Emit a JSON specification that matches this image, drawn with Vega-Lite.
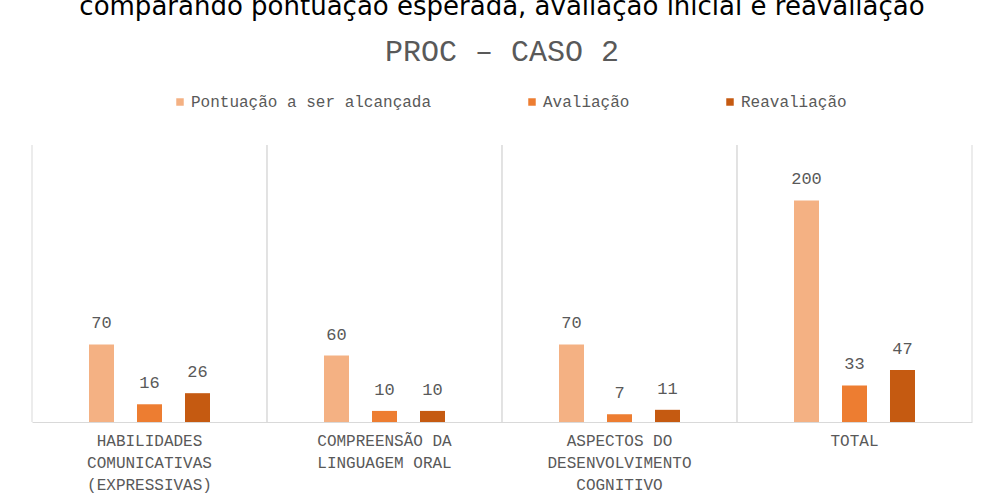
{
  "$schema": "https://vega.github.io/schema/vega-lite/v6.json",
  "autosize": {"type": "none"},
  "width": 940,
  "height": 277,
  "padding": {"left": 32, "top": 145, "right": 15, "bottom": 76},
  "background": "white",
  "title": {
    "text": "comparando pontuação esperada, avaliação inicial e reavaliação",
    "subtitle": "PROC – CASO 2",
    "anchor": "middle",
    "font": "DejaVu Sans",
    "fontSize": 26,
    "fontWeight": "normal",
    "color": "#000000",
    "subtitleFont": "Liberation Mono",
    "subtitleFontSize": 30,
    "subtitleColor": "#595959",
    "subtitlePadding": 17,
    "offset": 27
  },
  "data": {
    "values": [
      {"categoria": "HABILIDADES COMUNICATIVAS (EXPRESSIVAS)", "serie": "Pontuação a ser alcançada", "valor": 70},
      {"categoria": "HABILIDADES COMUNICATIVAS (EXPRESSIVAS)", "serie": "Avaliação", "valor": 16},
      {"categoria": "HABILIDADES COMUNICATIVAS (EXPRESSIVAS)", "serie": "Reavaliação", "valor": 26},
      {"categoria": "COMPREENSÃO DA LINGUAGEM ORAL", "serie": "Pontuação a ser alcançada", "valor": 60},
      {"categoria": "COMPREENSÃO DA LINGUAGEM ORAL", "serie": "Avaliação", "valor": 10},
      {"categoria": "COMPREENSÃO DA LINGUAGEM ORAL", "serie": "Reavaliação", "valor": 10},
      {"categoria": "ASPECTOS DO DESENVOLVIMENTO COGNITIVO", "serie": "Pontuação a ser alcançada", "valor": 70},
      {"categoria": "ASPECTOS DO DESENVOLVIMENTO COGNITIVO", "serie": "Avaliação", "valor": 7},
      {"categoria": "ASPECTOS DO DESENVOLVIMENTO COGNITIVO", "serie": "Reavaliação", "valor": 11},
      {"categoria": "TOTAL", "serie": "Pontuação a ser alcançada", "valor": 200},
      {"categoria": "TOTAL", "serie": "Avaliação", "valor": 33},
      {"categoria": "TOTAL", "serie": "Reavaliação", "valor": 47}
    ]
  },
  "layer": [
    {
      "transform": [{"filter": "datum.serie == 'Avaliação'"}],
      "mark": {"type": "rule", "color": "#d9d9d9", "strokeWidth": 1},
      "encoding": {
        "x": {"field": "categoria", "type": "nominal", "sort": null, "bandPosition": 0}
      }
    },
    {
      "transform": [{"filter": "datum.serie == 'Avaliação'"}],
      "mark": {"type": "rule", "color": "#d9d9d9", "strokeWidth": 1},
      "encoding": {
        "x": {"field": "categoria", "type": "nominal", "sort": null, "bandPosition": 1}
      }
    },
    {
      "mark": {"type": "bar", "width": 25},
      "encoding": {
        "x": {
          "field": "categoria",
          "type": "nominal",
          "sort": null,
          "scale": {"paddingInner": 0, "paddingOuter": 0},
          "axis": {
            "title": null,
            "labelAngle": 0,
            "labelAlign": "center",
            "labelExpr": "datum.value == 'HABILIDADES COMUNICATIVAS (EXPRESSIVAS)' ? ['HABILIDADES', 'COMUNICATIVAS', '(EXPRESSIVAS)'] : datum.value == 'COMPREENSÃO DA LINGUAGEM ORAL' ? ['COMPREENSÃO DA', 'LINGUAGEM ORAL'] : datum.value == 'ASPECTOS DO DESENVOLVIMENTO COGNITIVO' ? ['ASPECTOS DO', 'DESENVOLVIMENTO', 'COGNITIVO'] : datum.value",
            "labelFont": "Liberation Mono",
            "labelFontSize": 16,
            "labelColor": "#595959",
            "labelLineHeight": 22,
            "labelPadding": 10,
            "labelBaseline": "top",
            "labelLimit": 240,
            "ticks": false,
            "domainColor": "#d9d9d9",
            "domainWidth": 1,
            "grid": false
          }
        },
        "xOffset": {
          "field": "serie",
          "type": "nominal",
          "sort": ["Pontuação a ser alcançada", "Avaliação", "Reavaliação"],
          "scale": {"paddingInner": 0.104, "paddingOuter": 1}
        },
        "y": {
          "field": "valor",
          "type": "quantitative",
          "scale": {"domain": [0, 250], "nice": false},
          "axis": null
        },
        "color": {
          "field": "serie",
          "type": "nominal",
          "sort": ["Pontuação a ser alcançada", "Avaliação", "Reavaliação"],
          "scale": {
            "domain": ["Pontuação a ser alcançada", "Avaliação", "Reavaliação"],
            "range": ["#F4B183", "#ED7D31", "#C55A11"]
          },
          "legend": {
            "title": null,
            "orient": "none",
            "direction": "horizontal",
            "legendX": 140,
            "legendY": -51,
            "symbolType": "square",
            "symbolSize": 56,
            "symbolStrokeWidth": 0,
            "labelFont": "Liberation Mono",
            "labelFontSize": 16,
            "labelColor": "#595959",
            "labelOffset": 3,
            "columnPadding": 92,
            "labelLimit": 400
          }
        }
      }
    },
    {
      "mark": {
        "type": "text",
        "baseline": "bottom",
        "dy": -12,
        "font": "Liberation Mono",
        "fontSize": 17,
        "color": "#595959"
      },
      "encoding": {
        "x": {"field": "categoria", "type": "nominal", "sort": null},
        "xOffset": {
          "field": "serie",
          "type": "nominal",
          "sort": ["Pontuação a ser alcançada", "Avaliação", "Reavaliação"]
        },
        "y": {"field": "valor", "type": "quantitative"},
        "text": {"field": "valor", "type": "quantitative"}
      }
    }
  ],
  "config": {
    "view": {"stroke": null}
  }
}
